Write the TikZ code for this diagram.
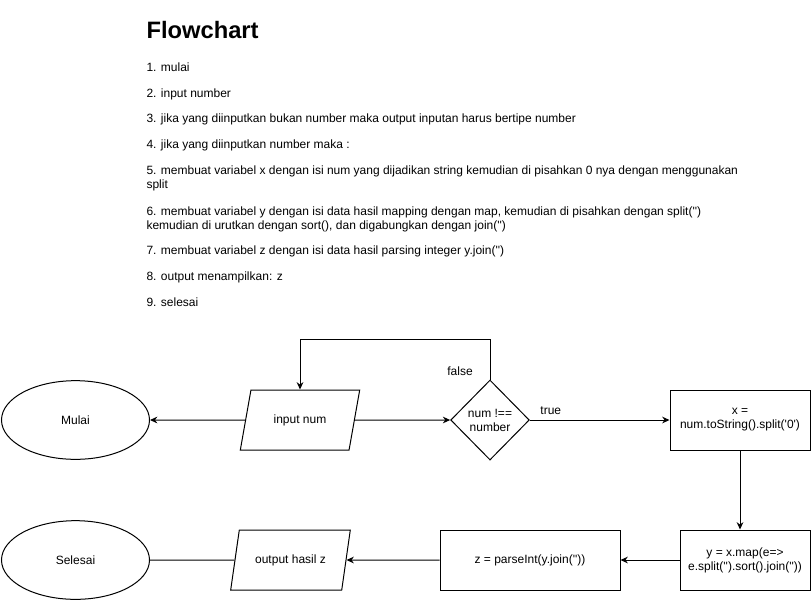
\documentclass[tikz,border=0pt]{standalone}
\usepackage{fontspec}
\setmainfont{Liberation Sans}
\usetikzlibrary{positioning, arrows.meta, shapes.geometric}
\newcommand{\squo}{\textquotesingle}

\begin{document}
\begin{tikzpicture}[x=0.75pt, y=-0.75pt, font=\fontsize{9}{10.5}\selectfont, line width=0.75pt,
    terminal/.style={draw, ellipse, minimum width=111pt, minimum height=59pt},
    io/.style={draw, trapezium, trapezium left angle=71.6, trapezium right angle=108.4, trapezium stretches=true, minimum width=90pt, minimum height=45pt},
    process/.style={draw, rectangle, align=center, minimum height=45pt, inner sep=1pt},
    decision/.style={draw, diamond, aspect=1, minimum width=59pt, minimum height=60pt, align=center, inner sep=0pt},
    item/.style={anchor=base west, align=left, inner sep=0pt},
    arrow/.style={-{Stealth[length=5.5pt, width=5pt]}}]
    \useasboundingbox (0,0) rectangle (812,601);
    % Heading and steps
    \node (title) [anchor=base west, font=\fontsize{17.8}{20}\selectfont\bfseries, inner sep=0pt] at (146,38) {Flowchart};
    \node (s1) [item] at (146,71) {1. mulai};
    \node (s2) [item] at (146,97) {2. input number};
    \node (s3) [item] at (146,122) {3. jika yang diinputkan bukan number maka output inputan harus bertipe number};
    \node (s4) [item] at (146,148) {4. jika yang diinputkan number maka :};
    \node (s5) [item] at (146,188) {5. membuat variabel x dengan isi num yang dijadikan string kemudian di pisahkan 0 nya dengan menggunakan\\split};
    \node (s6) [item] at (146,229) {6. membuat variabel y dengan isi data hasil mapping dengan map, kemudian di pisahkan dengan split(\squo\squo)\\kemudian di urutkan dengan sort(), dan digabungkan dengan join(\squo\squo)};
    \node (s7) [item] at (146,254) {7. membuat variabel z dengan isi data hasil parsing integer y.join(\squo\squo)};
    \node (s8) [item] at (146,280) {8. output menampilkan: z};
    \node (s9) [item] at (146,306) {9. selesai};
    % Top row
    \node (mulai) [terminal] at (75.5,420) {Mulai};
    \node (input) [io] at (300,420) {input num};
    \node (cek) [decision] at (490,420) {num !==\\number};
    \node (xbox) [process, minimum width=105pt] at (740,420) {x =\\num.toString().split(\squo 0\squo)};
    % Bottom row
    \node (ybox) [process, minimum width=97.5pt] at (745,560) {y = x.map(e=>\\e.split(\squo\squo).sort().join(\squo\squo))};
    \node (zbox) [process, minimum width=135pt] at (530,560) {z = parseInt(y.join(\squo\squo))};
    \node (output) [io] at (290.5,560) {output hasil z};
    \node (selesai) [terminal] at (75.5,560) {Selesai};
    % Connectors
    \draw [arrow] (input) -- (mulai);
    \draw [arrow] (input) -- (cek);
    \draw [arrow] (cek.north) -- ++(0,-40) -| (input.north);
    \node (false) at (460,371) {false};
    \draw [arrow] (cek) -- (xbox) node (true) [pos=0.15, above] {true};
    \draw [arrow] (xbox.south) -- (xbox.south |- ybox.north);
    \draw [arrow] (ybox) -- (zbox);
    \draw [arrow] (zbox) -- (output);
    \draw (output) -- (selesai);
\end{tikzpicture}
\end{document}
